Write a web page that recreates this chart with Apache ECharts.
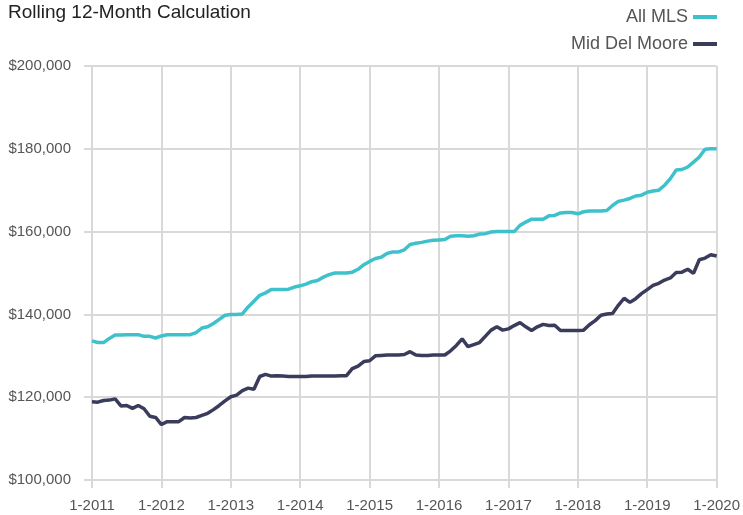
<!DOCTYPE html>
<html>
<head>
<meta charset="utf-8">
<script src="https://cdn.jsdelivr.net/npm/echarts@6/dist/echarts.min.js"></script>
<style>
html,body{margin:0;padding:0;background:#fff;}
#chart{width:743px;height:515px;}
</style>
</head>
<body>
<div id="chart"></div>
<script>
// Values in thousands of dollars, monthly from 1-2011 to 1-2020
const years = [2011, 2012, 2013, 2014, 2015, 2016, 2017, 2018, 2019, 2020];
const allMLS = [
  133.6, 133.2, 133.2, 134.2, 135.0, 135.0, 135.1, 135.1, 135.1, 134.7, 134.7, 134.3,
  134.8, 135.1, 135.1, 135.1, 135.1, 135.1, 135.6, 136.7, 137.0, 137.8, 138.8, 139.8,
  140.0, 140.0, 140.1, 141.8, 143.2, 144.6, 145.2, 146.0, 146.0, 146.0, 146.1, 146.6,
  146.9, 147.3, 147.9, 148.2, 149.0, 149.6, 150.0, 150.0, 150.0, 150.2, 150.9, 152.0,
  152.8, 153.5, 153.8, 154.7, 155.1, 155.1, 155.6, 156.9, 157.2, 157.4, 157.7, 157.9,
  158.0, 158.1, 158.9, 159.0, 159.0, 158.9, 159.0, 159.4, 159.5, 159.9, 160.0, 160.0,
  160.0, 160.0, 161.5, 162.3, 163.0, 163.0, 163.0, 163.8, 163.9, 164.5, 164.6, 164.6,
  164.3, 164.8, 165.0, 165.0, 165.0, 165.1, 166.3, 167.3, 167.6, 168.0, 168.6, 168.8,
  169.5, 169.8, 170.0, 171.2, 172.8, 174.9, 175.0, 175.6, 176.8, 178.0, 179.9, 180.0,
  180.0
];
const midDelMoore = [
  118.9, 118.8, 119.2, 119.3, 119.6, 117.9, 118.0, 117.3, 118.0, 117.2, 115.4, 115.1,
  113.4, 114.1, 114.1, 114.1, 115.1, 115.0, 115.1, 115.6, 116.1, 117.0, 118.0, 119.1,
  120.1, 120.5, 121.6, 122.2, 121.9, 125.0, 125.5, 125.1, 125.2, 125.1, 125.0, 125.0,
  125.0, 125.0, 125.1, 125.1, 125.1, 125.1, 125.1, 125.2, 125.2, 126.9, 127.5, 128.6,
  128.8, 130.0, 130.1, 130.2, 130.2, 130.2, 130.3, 131.0, 130.2, 130.1, 130.1, 130.2,
  130.2, 130.2, 131.2, 132.5, 134.1, 132.2, 132.7, 133.2, 134.7, 136.2, 137.0, 136.2,
  136.5, 137.3, 138.0, 137.0, 136.1, 137.0, 137.6, 137.3, 137.4, 136.1, 136.1, 136.1,
  136.1, 136.2, 137.5, 138.5, 139.8, 140.1, 140.2, 142.2, 143.9, 142.9, 143.8, 145.0,
  146.0, 147.0, 147.5, 148.3, 148.8, 150.1, 150.2, 150.9, 149.9, 153.2, 153.6, 154.4,
  154.1
];
const categories = [];
years.forEach(function (y) {
  for (let m = 1; m <= 12; m++) {
    if (y === 2020 && m > 1) break;
    categories.push(m + '-' + y);
  }
});

const FONT = '"Liberation Sans", Arial, sans-serif';
const GRID = '#d9d9d9';

const chart = echarts.init(document.getElementById('chart'), null, {renderer: 'canvas'});
chart.setOption({
  animation: false,
  backgroundColor: '#ffffff',
  title: {
    text: 'Rolling 12-Month Calculation',
    left: 8,
    top: 3,
    padding: 0,
    textStyle: {fontFamily: FONT, fontSize: 19, fontWeight: 'normal', color: '#222222'}
  },
  legend: {
    orient: 'vertical',
    right: 21,
    top: 2,
    align: 'right',
    itemWidth: 24,
    itemHeight: 4,
    itemGap: 7,
    icon: 'rect',
    textStyle: {fontFamily: FONT, fontSize: 18, color: '#555555', lineHeight: 20},
    data: ['All MLS', 'Mid Del Moore']
  },
  grid: {left: 92, right: 24, top: 66, bottom: 35, containLabel: false},
  xAxis: {
    type: 'category',
    boundaryGap: false,
    data: categories,
    axisLine: {show: true, lineStyle: {color: GRID, width: 2}},
    axisTick: {show: true, interval: 11, length: 8, lineStyle: {color: GRID, width: 2}},
    axisLabel: {interval: 11, fontFamily: FONT, fontSize: 15, color: '#555555', margin: 18},
    splitLine: {show: true, interval: 11, lineStyle: {color: GRID, width: 2}}
  },
  yAxis: {
    type: 'value',
    min: 100,
    max: 200,
    interval: 20,
    axisLine: {show: false},
    axisTick: {show: true, length: 8, lineStyle: {color: GRID, width: 2}},
    axisLabel: {
      fontFamily: FONT, fontSize: 15, color: '#555555', margin: 21,
      formatter: function (v) { return '$' + (v * 1000).toLocaleString('en-US'); }
    },
    splitLine: {show: true, lineStyle: {color: GRID, width: 2}}
  },
  series: [
    {
      name: 'All MLS', type: 'line', data: allMLS, showSymbol: false, symbol: 'none',
      lineStyle: {color: '#3fc1cb', width: 3.5}, itemStyle: {color: '#3fc1cb'}
    },
    {
      name: 'Mid Del Moore', type: 'line', data: midDelMoore, showSymbol: false, symbol: 'none',
      lineStyle: {color: '#3a3c5b', width: 3.5}, itemStyle: {color: '#3a3c5b'}
    }
  ]
});
</script>
</body>
</html>
